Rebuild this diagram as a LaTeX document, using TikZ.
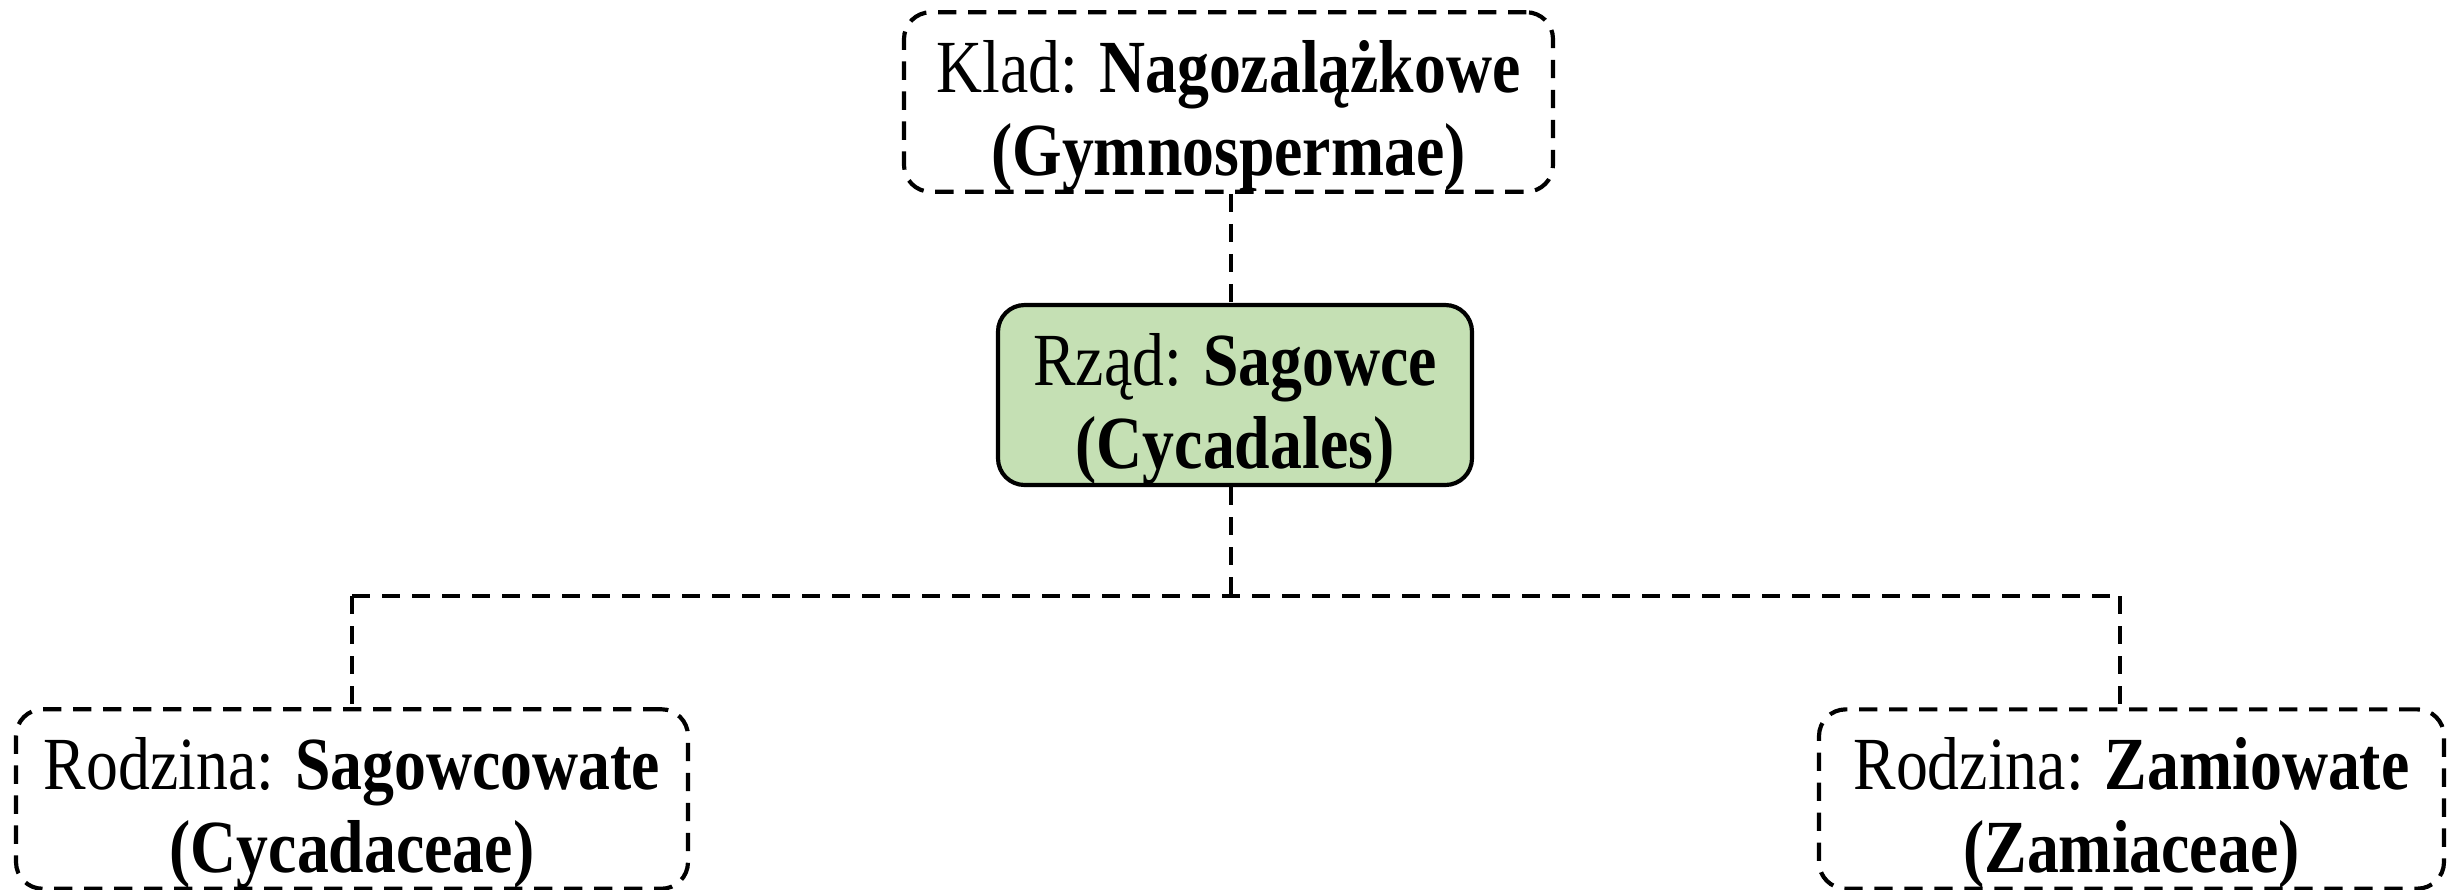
\documentclass[tikz,border=0pt]{standalone}
\usepackage{fontspec}
\setmainfont{Liberation Serif}[FakeStretch=0.85]
\usetikzlibrary{calc}
\definecolor{boxgreen}{HTML}{C5E0B4}
\newcommand{\topstrut}{\rule{0pt}{24pt}}
\begin{document}
\begin{tikzpicture}[x=0.3pt,y=-0.3pt,
  box/.style={rectangle, rounded corners=8pt, line width=1.25pt, align=center, inner sep=0pt,
    font=\fontsize{22.5}{25}\selectfont},
  dbox/.style={box, draw, dash pattern=on 5.5pt off 3.5pt},
  gbox/.style={box, draw, fill=boxgreen},
  conn/.style={line width=1.25pt, dash pattern=on 5.5pt off 3.5pt}]
\useasboundingbox (0,0) rectangle (2453,889);
\node[dbox, minimum width=194.7pt, minimum height=53.4pt] (T) at (1228.5,102) {\topstrut Klad: \textbf{Nagozalążkowe}\\\textbf{(Gymnospermae)}};
\node[gbox, minimum width=142.2pt, minimum height=54pt] (M) at (1235,395) {\topstrut Rząd: \textbf{Sagowce}\\\textbf{(Cycadales)}};
\node[dbox, minimum width=201.6pt, minimum height=53.4pt] (L) at (352,799) {\topstrut Rodzina: \textbf{Sagowcowate}\\\textbf{(Cycadaceae)}};
\node[dbox, minimum width=187.5pt, minimum height=53.4pt] (R) at (2131.5,799) {\topstrut Rodzina: \textbf{Zamiowate}\\\textbf{(Zamiaceae)}};
\coordinate (j) at (1231,596);
\coordinate (lj) at (352,596);
\coordinate (rj) at (2120,596);
\draw[conn] (T.south -| j) -- (M.north -| j);
\draw[conn] (M.south -| j) -- (j);
\draw[conn] (lj) -- (rj);
\draw[conn] (lj) -- (L.north);
\draw[conn] (rj) -- (rj |- R.north);
\end{tikzpicture}
\end{document}
